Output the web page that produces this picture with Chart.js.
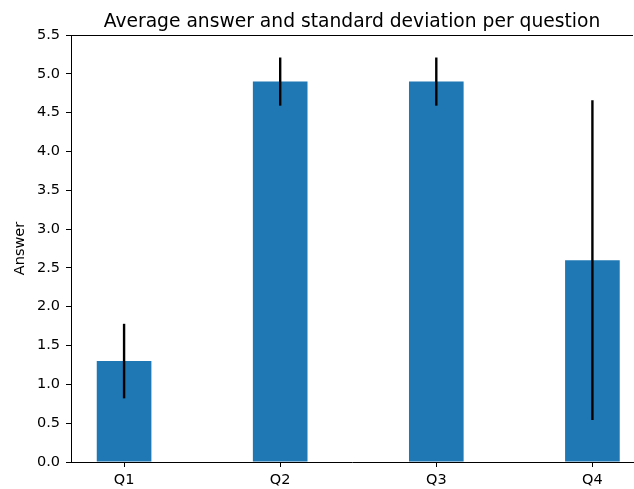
<!DOCTYPE html>
<html>
<head>
<meta charset="utf-8">
<script src="https://cdn.jsdelivr.net/npm/chart.js@4"></script>
<style>
  html, body { margin: 0; padding: 0; background: #fff; }
  #wrap { width: 634px; height: 489px; }
</style>
</head>
<body>
<div id="wrap"><canvas id="chart"></canvas></div>
<script>
// Data
var questions = ['Q1', 'Q2', 'Q3', 'Q4'];
var means = [1.3, 4.9, 4.9, 2.6];
var stds = [0.48, 0.31, 0.31, 2.06];
var yTicks = [0, 0.5, 1, 1.5, 2, 2.5, 3, 3.5, 4, 4.5, 5, 5.5];

var titleText = 'Average answer and standard deviation per question';
var fontFamily = '"DejaVu Sans", sans-serif';

// error bars, top spine and title drawn through the chart's own scales
var extras = {
    id: 'extras',
    afterDatasetsDraw: function (chart) {
        var ctx = chart.ctx;
        var xs = chart.scales.x, ys = chart.scales.y;
        var area = chart.chartArea;
        ctx.save();
        ctx.strokeStyle = '#000';
        ctx.lineWidth = 2.4;
        means.forEach(function (m, i) {
            var px = xs.getPixelForValue(i);
            ctx.beginPath();
            ctx.moveTo(px, ys.getPixelForValue(m - stds[i]));
            ctx.lineTo(px, ys.getPixelForValue(m + stds[i]));
            ctx.stroke();
        });
        // top spine
        ctx.lineWidth = 1;
        ctx.beginPath();
        ctx.moveTo(area.left, area.top + 0.5);
        ctx.lineTo(area.right, area.top + 0.5);
        ctx.stroke();
        // title
        ctx.fillStyle = '#000';
        ctx.font = '18.7px ' + fontFamily;
        ctx.textAlign = 'center';
        ctx.textBaseline = 'alphabetic';
        ctx.fillText(titleText, (area.left + area.right) / 2, area.top - 8);
        ctx.restore();
    }
};

new Chart(document.getElementById('chart'), {
    type: 'bar',
    data: {
        datasets: [{
            data: means.map(function (m, i) { return { x: i, y: m }; }),
            backgroundColor: '#1f77b4',
            borderWidth: 0,
            barPercentage: 0.35,
            categoryPercentage: 1
        }]
    },
    options: {
        responsive: true,
        maintainAspectRatio: false,
        animation: false,
        layout: { padding: { top: 35, right: 1, left: 0, bottom: 0 } },
        plugins: {
            legend: { display: false },
            tooltip: { enabled: false }
        },
        scales: {
            x: {
                type: 'linear',
                offset: false,
                min: -0.34,
                max: 3.26,
                afterBuildTicks: function (axis) {
                    axis.ticks = questions.map(function (q, i) { return { value: i }; });
                },
                afterFit: function (axis) { axis.height = 27; },
                ticks: {
                    color: '#000',
                    font: { family: fontFamily, size: 14.5 },
                    padding: 5,
                    maxRotation: 0,
                    callback: function (v) { return questions[v]; }
                },
                grid: { offset: false, drawOnChartArea: false, drawTicks: true, tickLength: 5, color: '#000' },
                border: { color: '#000', width: 1 }
            },
            y: {
                min: 0,
                max: 5.5,
                afterBuildTicks: function (axis) {
                    axis.ticks = yTicks.map(function (v) { return { value: v }; });
                },
                afterFit: function (axis) { axis.width = 71; },
                ticks: {
                    color: '#000',
                    font: { family: fontFamily, size: 14.5 },
                    padding: 6,
                    callback: function (v) { return v.toFixed(1); }
                },
                title: {
                    display: true,
                    text: 'Answer',
                    color: '#000',
                    font: { family: fontFamily, size: 14.5 },
                    padding: { top: 12, bottom: 0 }
                },
                grid: { drawOnChartArea: false, drawTicks: true, tickLength: 5, color: '#000' },
                border: { color: '#000', width: 1 }
            }
        }
    },
    plugins: [extras]
});
</script>
</body>
</html>
